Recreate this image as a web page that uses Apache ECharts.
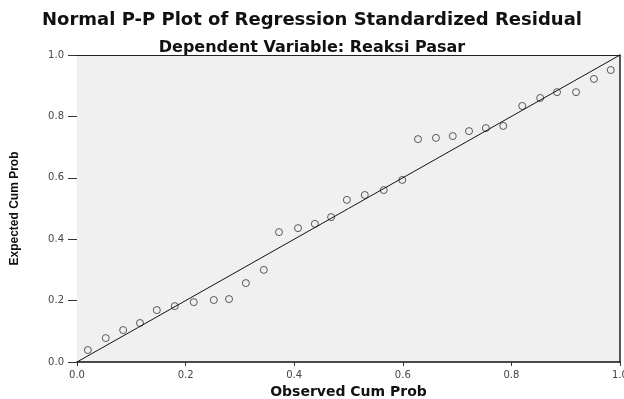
<!DOCTYPE html>
<html>
<head>
<meta charset="utf-8">
<script src="https://cdn.jsdelivr.net/npm/echarts@6/dist/echarts.min.js"></script>
<style>html,body{margin:0;padding:0;background:#fff;}#c{width:624px;height:399px;}</style>
</head>
<body>
<div id="c"></div>
<script>
var titleText = 'Normal P-P Plot of Regression Standardized Residual';
var subtitleText = 'Dependent Variable: Reaksi Pasar';
var xName = 'Observed Cum Prob';
var yName = 'Expected Cum Prob';
var tickLabels = ['0.0', '0.2', '0.4', '0.6', '0.8', '1.0'];
var observed = [0.020,0.053,0.085,0.116,0.147,0.180,0.215,0.252,0.280,0.311,0.344,0.372,0.407,0.438,0.468,0.497,0.530,0.565,0.599,0.628,0.661,0.692,0.722,0.753,0.785,0.820,0.853,0.884,0.919,0.952,0.983];
var expected = [0.039,0.078,0.104,0.127,0.169,0.182,0.195,0.202,0.205,0.257,0.300,0.423,0.436,0.450,0.472,0.528,0.544,0.560,0.593,0.726,0.730,0.736,0.752,0.762,0.769,0.834,0.860,0.879,0.879,0.922,0.951];
var refLine = [[0, 0], [1, 1]];

var pts = observed.map(function (v, i) { return [v, expected[i]]; });
function fmt(v) { return tickLabels[Math.round(v * 5)] || ''; }

var chart = echarts.init(document.getElementById('c'), null, {renderer: 'canvas'});
chart.setOption({
  backgroundColor: '#ffffff',
  animation: false,
  title: [
    {text: titleText, left: 'center', top: 6, textStyle: {fontFamily: 'DejaVu Sans', fontWeight: 'bold', fontSize: 18, color: '#111'}},
    {text: subtitleText, left: 'center', top: 35, textStyle: {fontFamily: 'DejaVu Sans', fontWeight: 'bold', fontSize: 16, color: '#111'}}
  ],
  grid: {left: 77, right: 4, top: 55, bottom: 37, show: true, backgroundColor: '#f0f0f0', borderWidth: 0, containLabel: false, outerBoundsMode: 'none'},
  xAxis: [
    {type: 'value', min: 0, max: 1, interval: 0.2, position: 'bottom',
     name: xName, nameLocation: 'middle', nameGap: 22,
     nameTextStyle: {fontFamily: 'DejaVu Sans', fontWeight: 'bold', fontSize: 14, color: '#111'},
     axisLine: {show: true, onZero: false, lineStyle: {color: '#111', width: 1.5}},
     axisTick: {show: true, inside: false, length: 4, lineStyle: {color: '#333'}},
     axisLabel: {formatter: fmt, fontSize: 10, color: '#444', margin: 8, fontFamily: 'DejaVu Sans'},
     splitLine: {show: false}},
    {type: 'value', min: 0, max: 1, position: 'top',
     axisLine: {show: true, onZero: false, lineStyle: {color: '#222', width: 1.2}},
     axisTick: {show: false}, axisLabel: {show: false}, splitLine: {show: false}}
  ],
  yAxis: [
    {type: 'value', min: 0, max: 1, interval: 0.2, position: 'left',
     name: yName, nameLocation: 'middle', nameGap: 56, nameRotate: 90,
     nameTextStyle: {fontFamily: 'Liberation Sans', fontWeight: 'bold', fontSize: 12, color: '#111'},
     axisLine: {show: false, onZero: false},
     axisTick: {show: true, inside: false, length: 9, lineStyle: {color: '#333'}},
     axisLabel: {formatter: fmt, fontSize: 10, color: '#444', margin: 13, fontFamily: 'DejaVu Sans'},
     splitLine: {show: false}},
    {type: 'value', min: 0, max: 1, position: 'right',
     axisLine: {show: true, onZero: false, lineStyle: {color: '#222', width: 1.5}},
     axisTick: {show: false}, axisLabel: {show: false}, splitLine: {show: false}}
  ],
  series: [
    {type: 'line', data: refLine, symbol: 'none', silent: true,
     lineStyle: {color: '#111', width: 1}},
    {type: 'scatter', data: pts, symbol: 'circle', symbolSize: 7,
     itemStyle: {color: 'rgba(0,0,0,0)', borderColor: '#333', borderWidth: 1}}
  ]
});
</script>
</body>
</html>
